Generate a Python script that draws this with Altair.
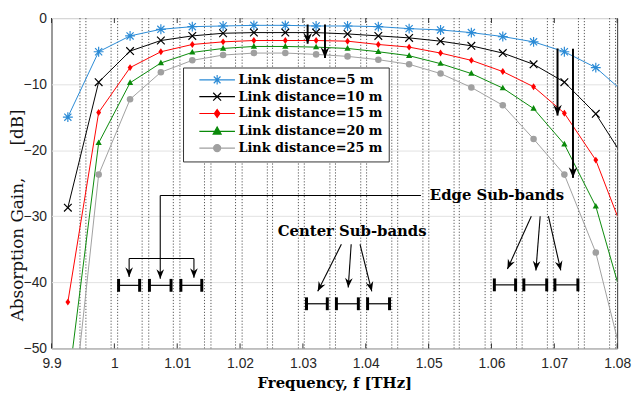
import math
import altair as alt
import pandas as pd

# ---------------- data ----------------
freq_thz = [0.9926, 0.9975, 1.0025, 1.0074, 1.0124, 1.0173, 1.0222, 1.0272, 1.0321,
            1.0371, 1.0420, 1.0469, 1.0519, 1.0568, 1.0618, 1.0667, 1.0716, 1.0766, 1.0815]
gain_5m = [-15.0, -5.1, -2.7, -1.7, -1.3, -1.2, -1.1, -1.1, -1.2, -1.2, -1.3, -1.6,
           -1.8, -2.2, -2.8, -3.6, -5.1, -7.5, -11.6]
gain_10m = [-28.7, -9.7, -5.0, -3.4, -2.7, -2.3, -2.2, -2.2, -2.2, -2.4, -2.7, -3.0,
            -3.5, -4.2, -5.3, -7.0, -9.7, -14.5, -21.8]
gain_15m = [-43.0, -14.3, -7.5, -5.1, -4.0, -3.6, -3.4, -3.4, -3.4, -3.5, -4.0, -4.4,
            -5.3, -6.4, -8.1, -10.4, -14.4, -21.5, -33.6]
gain_20m = [-55.9, -18.9, -9.8, -6.8, -5.2, -4.6, -4.3, -4.3, -4.4, -4.6, -5.1, -5.7,
            -6.9, -8.4, -10.6, -13.7, -19.1, -28.5, -44.8]
gain_25m = [-66.8, -23.7, -12.3, -8.2, -6.4, -5.6, -5.3, -5.3, -5.5, -5.8, -6.3, -7.0,
            -8.4, -10.5, -13.2, -18.3, -23.7, -35.5, -54.2]
series_labels = ["Link distance=5 m", "Link distance=10 m", "Link distance=15 m",
                 "Link distance=20 m", "Link distance=25 m"]

# sub-band edges (dotted lines), THz
band_edges = [0.99453, 0.99547, 0.99948, 1.00052, 1.00442, 1.00547, 1.00938, 1.01043,
              1.01434, 1.01537, 1.01928, 1.02033, 1.02434, 1.02517, 1.02928, 1.03022,
              1.03429, 1.03518, 1.0392, 1.04013, 1.04414, 1.04508, 1.04909, 1.05003,
              1.05405, 1.05488, 1.05899, 1.05993, 1.06399, 1.06488, 1.0689, 1.06984,
              1.07384, 1.07478, 1.0788, 1.07974]

x_ticks = [0.99, 1.0, 1.01, 1.02, 1.03, 1.04, 1.05, 1.06, 1.07, 1.08]
y_ticks = [-50, -40, -30, -20, -10, 0]

# big arrows near the curves (start -> tip)
big_x0 = [1.03075, 1.03351, 1.07051, 1.07297]
big_y0 = [-0.97, -0.97, -4.60, -4.64]
big_x1 = [1.03075, 1.03351, 1.07051, 1.07297]
big_y1 = [-3.88, -6.05, -14.76, -24.19]

# sub-band pointer arrows (start -> tip)
arr_x0 = [1.0073, 1.00235, 1.01266, 1.03612, 1.03768, 1.03909, 1.06634, 1.06775, 1.06906]
arr_y0 = [-26.85, -36.39, -36.39, -34.25, -34.25, -34.25, -30.0, -30.0, -30.0]
arr_x1 = [1.0073, 1.00235, 1.01266, 1.03236, 1.03721, 1.04096, 1.06254, 1.06707, 1.07103]
arr_y1 = [-39.48, -39.19, -39.33, -41.36, -40.78, -41.36, -37.98, -38.21, -38.21]

# connector segments without heads
seg_x0 = [1.04878, 1.00235]
seg_y0 = [-26.85, -36.39]
seg_x1 = [1.0073, 1.01266]
seg_y1 = [-26.85, -36.39]

# sub-band bars
bar_lo = [1.00067, 1.00558, 1.01058, 1.03057, 1.03533, 1.04029, 1.06046, 1.06515, 1.07009]
bar_hi = [1.00402, 1.00902, 1.01391, 1.03388, 1.03882, 1.04378, 1.06384, 1.06879, 1.07375]
bar_lvl = [-40.46, -40.46, -40.46, -43.25, -43.25, -43.25, -40.39, -40.39, -40.39]

note_text = ["Center Sub-bands", "Edge Sub-bands"]
note_x = [1.03784, 1.0502]
note_y = [-32.18, -26.85]

# ---------------- styling ----------------
W, H = 572, 334
XMIN, XMAX = 0.99, 1.08
YMIN, YMAX = -50, 0
colors = ["#2b8bd6", "#000000", "#ff0000", "#0a8a0a", "#a0a0a0"]
SERIF = "DejaVu Serif"
SANS = "Liberation Sans"
NB = "\u00a0"

xs = alt.Scale(domain=[XMIN, XMAX], nice=False, zero=False)
ys = alt.Scale(domain=[YMIN, YMAX], nice=False, zero=False)

x_axis = alt.Axis(values=x_ticks,
                  labelExpr="datum.value < 0.995 ? '9.9' : format(datum.value, '.3~f')",
                  title="Frequency, f [THz]", grid=False, domain=False, ticks=False,
                  labelFont=SANS, labelFontSize=14, labelColor="#262626", labelPadding=8,
                  labelFlush=False,
                  titleFont=SERIF, titleFontWeight="bold", titleFontSize=15,
                  titleColor="black", titleY=40, titleBaseline="alphabetic")
y_axis = alt.Axis(values=y_ticks, title="Absorption Gain," + NB * 6 + "[dB]",
                  grid=True, gridColor="#e2e2e2", gridWidth=1, domain=False, ticks=False,
                  labelFont=SANS, labelFontSize=14, labelColor="#262626", labelPadding=5,
                  titleFont=SERIF, titleFontWeight="normal", titleFontSize=17,
                  titleColor="#111111", titleAngle=270, titleX=-34, titleY=199,
                  titleAlign="center", titleBaseline="middle")


def X(field):
    return alt.X(field, type="quantitative", scale=xs, axis=x_axis)


def Y(field):
    return alt.Y(field, type="quantitative", scale=ys, axis=y_axis)


gains = [gain_5m, gain_10m, gain_15m, gain_20m, gain_25m]
rows = []
for lab, vals in zip(series_labels, gains):
    for f, g in zip(freq_thz, vals):
        rows.append({"f": f, "g": g, "s": lab})
df = pd.DataFrame(rows)

layers = []

# dotted sub-band edges
edges_df = pd.DataFrame({"e": band_edges})
layers.append(alt.Chart(edges_df).mark_rule(color="#444444", strokeDash=[1.2, 1.8],
                                              strokeWidth=0.9).encode(x=X("e")))

# inward ticks on bottom and top
ticks_df = pd.DataFrame({"t": x_ticks})
layers.append(alt.Chart(ticks_df).mark_rule(color="#333333", strokeWidth=1).encode(
    x=X("t"), y=alt.value(H), y2=alt.value(H - 5)))
layers.append(alt.Chart(ticks_df).mark_rule(color="#333333", strokeWidth=1).encode(
    x=X("t"), y=alt.value(0), y2=alt.value(5)))

# markers
plot_shapes = [
    ("M0,-1L0,1M-1,0L1,0M-0.72,-0.72L0.72,0.72M-0.72,0.72L0.72,-0.72", 100, False),
    ("M-1,-1L1,1M-1,1L1,-1", 60, False),
    ("M0,-1L0.7,0L0,1L-0.7,0Z", 49, True),
    ("M0,-1.1L1,0.7L-1,0.7Z", 40, True),
    ("circle", 44, True),
]

for lab, col, (shp, sz, filled) in zip(series_labels, colors, plot_shapes):
    sub = df[df["s"] == lab]
    layers.append(alt.Chart(sub).mark_line(color=col, strokeWidth=1, clip=True).encode(
        x=X("f"), y=Y("g")))
    if filled:
        pm = alt.Chart(sub).mark_point(shape=shp, size=sz, filled=True, color=col,
                                       opacity=1, clip=True)
    else:
        pm = alt.Chart(sub).mark_point(shape=shp, size=sz, filled=False, color=col,
                                       strokeWidth=1.2, opacity=1, clip=True)
    layers.append(pm.encode(x=X("f"), y=Y("g")))

# legend (invisible layer supplying the legend)
legend_shapes = [
    "M-4.5,0L4.5,0M0,-1.2L0,1.2M-0.85,-0.85L0.85,0.85M-0.85,0.85L0.85,-0.85",
    "M-4.5,0L4.5,0M-1,-1L1,1M-1,1L1,-1",
    "M-4.5,0L4.5,0M0,-1L0.7,0L0,1L-0.7,0Z",
    "M-4.5,0L4.5,0M0,-1.1L1,0.7L-1,0.7Z",
    "M-4.5,0L4.5,0M0.9,0A0.9,0.9,0,1,1,-0.9,0A0.9,0.9,0,1,1,0.9,0Z",
]
leg = alt.Legend(title=None, orient="none", legendX=133, legendY=50, direction="vertical",
                 symbolSize=64, symbolStrokeWidth=1.2, symbolOffset=22, labelOffset=15,
                 symbolOpacity=1, labelFont=SERIF, labelFontWeight="bold", labelFontSize=13,
                 labelColor="black", labelLimit=400, strokeColor="#333333",
                 fillColor="white", padding=6, rowPadding=3)
layers.append(alt.Chart(df).mark_point(opacity=0, clip=True).encode(
    x=X("f"), y=Y("g"),
    fill=alt.Fill("s:N", scale=alt.Scale(domain=series_labels, range=colors), legend=leg),
    stroke=alt.Stroke("s:N", scale=alt.Scale(domain=series_labels, range=colors), legend=leg),
    shape=alt.Shape("s:N", scale=alt.Scale(domain=series_labels, range=legend_shapes),
                    legend=leg),
))

# annotation arrows
sx = W / (XMAX - XMIN)
sy = H / (YMAX - YMIN)


def arrow_df(x0, y0, x1, y1):
    ang = []
    for a, b, c, d in zip(x0, y0, x1, y1):
        dx = (c - a) * sx
        dy = (b - d) * sy
        ang.append(math.degrees(math.atan2(-dx, dy)) % 360)
    return pd.DataFrame({"x0": x0, "y0": y0, "x1": x1, "y1": y1, "ang": ang})


head = "M0,0L-0.5,-1.25L0,-0.85L0.5,-1.25Z"
big_df = arrow_df(big_x0, big_y0, big_x1, big_y1)
small_df = arrow_df(arr_x0, arr_y0, arr_x1, arr_y1)

layers.append(alt.Chart(big_df).mark_rule(color="black", strokeWidth=2).encode(
    x=X("x0"), y=Y("y0"), x2="x1", y2="y1"))
layers.append(alt.Chart(big_df).mark_point(shape=head, size=300, filled=True, color="black",
                                           opacity=1).encode(
    x=X("x1"), y=Y("y1"), angle=alt.Angle("ang:Q", scale=None)))

seg_df = pd.DataFrame({"x0": seg_x0, "y0": seg_y0, "x1": seg_x1, "y1": seg_y1})
layers.append(alt.Chart(seg_df).mark_rule(color="black", strokeWidth=1.1).encode(
    x=X("x0"), y=Y("y0"), x2="x1", y2="y1"))
layers.append(alt.Chart(small_df).mark_rule(color="black", strokeWidth=1.1).encode(
    x=X("x0"), y=Y("y0"), x2="x1", y2="y1"))
layers.append(alt.Chart(small_df).mark_point(shape=head, size=240, filled=True, color="black",
                                             opacity=1).encode(
    x=X("x1"), y=Y("y1"), angle=alt.Angle("ang:Q", scale=None)))

# sub-band bars with thick end caps
bar_df = pd.DataFrame({"lo": bar_lo, "hi": bar_hi, "lvl": bar_lvl})
layers.append(alt.Chart(bar_df).mark_rule(color="black", strokeWidth=1.2).encode(
    x=X("lo"), x2="hi", y=Y("lvl")))
cap_df = pd.DataFrame({"c": bar_lo + bar_hi, "lvl": bar_lvl + bar_lvl})
layers.append(alt.Chart(cap_df).mark_tick(orient="vertical", color="black", size=13,
                                          thickness=3, opacity=1).encode(
    x=X("c"), y=Y("lvl")))

# annotation texts
txt_df = pd.DataFrame({"t": note_text, "x": note_x, "y": note_y})
layers.append(alt.Chart(txt_df.iloc[[0]]).mark_text(font=SERIF, fontWeight="bold",
                                                     fontSize=15, align="center",
                                                     baseline="middle", color="black").encode(
    x=X("x"), y=Y("y"), text="t:N"))
layers.append(alt.Chart(txt_df.iloc[[1]]).mark_text(font=SERIF, fontWeight="bold",
                                                     fontSize=15, align="left",
                                                     baseline="middle", color="black").encode(
    x=X("x"), y=Y("y"), text="t:N"))

chart = alt.layer(*layers).properties(
    width=W, height=H,
    padding={"left": 44, "top": 8, "right": 15, "bottom": 46},
    autosize=alt.AutoSizeParams(type="none"),
).configure_view(stroke="#333333", strokeWidth=1)

chart.save("out.html", embed_options={"renderer": "svg", "actions": False})
